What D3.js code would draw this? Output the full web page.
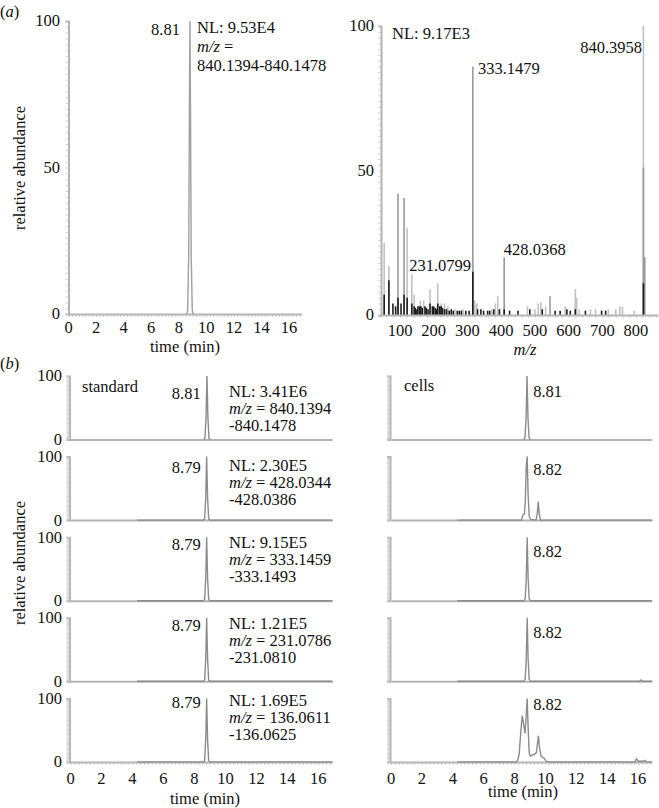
<!DOCTYPE html>
<html>
<head>
<meta charset="utf-8">
<script src="https://cdnjs.cloudflare.com/ajax/libs/d3/7.8.5/d3.min.js"></script>
<style>
body { margin: 0; background: #fff; }
svg text { font-family: "Liberation Serif", "Times New Roman", serif; font-size: 16.5px; fill: #111; }
</style>
</head>
<body>
<div id="fig"></div>
<script>
// valores
const timeTicks = [0, 2, 4, 6, 8, 10, 12, 14, 16];
const mzTicks = [100, 200, 300, 400, 500, 600, 700, 800];

// (a) cromatograma
const topTrace = [[8.56, 0], [8.64, 1], [8.72, 20], [8.77, 70], [8.81, 100], [8.85, 70], [8.90, 20], [8.98, 1], [9.06, 0]];

// (a) espectro: m/z, abundancia, tono (0 claro, 1 medio, 2 oscuro)
const specMz = [53, 53, 67, 67, 79, 87, 94, 94, 103, 112, 112, 121, 121, 135, 135, 142, 142, 153, 160, 162, 170, 178,
  189, 189, 196, 205, 212, 212, 222, 222, 232, 232, 242, 252, 263, 270, 287, 295, 316, 316, 322, 328, 340, 360, 372, 383,
  390, 395, 409, 409, 425, 450, 478, 485, 500, 510, 518, 522, 532, 545, 560, 575, 590, 595, 605, 620, 624, 620, 632, 650,
  665, 680, 698, 710, 718, 740, 752, 760, 795, 822, 822, 822, 826,
  145, 150, 158, 166, 174, 183, 200, 208, 218, 226, 238, 246, 258, 276, 282, 305, 330, 348, 366, 378];
const specInt = [25, 7, 17, 12, 4, 3, 42, 6, 4, 40.5, 7, 30, 6, 14, 4, 7, 3, 3, 5, 3, 5, 2.5,
  9, 4, 3, 2.5, 11, 4, 4, 3, 4, 2, 3, 2, 2, 1.5, 2, 1.5, 86, 15, 5, 4, 2, 1.5, 2, 4,
  6.5, 2, 20, 2, 1.5, 1.5, 3, 2, 2, 4, 4.5, 2, 3, 6.5, 1.5, 1.5, 3, 2, 1.5, 9, 6, 2, 2, 1.5,
  2, 2, 1.5, 1.5, 2, 2, 3, 3, 1.5, 100, 51, 11, 20,
  2.5, 2, 3, 2.5, 3, 2, 3, 2, 3, 2.5, 2, 1.5, 1.5, 1.5, 1.5, 1.5, 2, 1.5, 1.5, 2];
const specShade = [0, 2, 0, 2, 2, 2, 1, 2, 2, 1, 2, 0, 2, 0, 2, 0, 2, 2, 0, 2, 0, 2,
  0, 2, 2, 2, 0, 2, 0, 2, 0, 2, 0, 2, 0, 2, 0, 2, 1, 2, 0, 0, 2, 2, 0, 0,
  0, 2, 1, 2, 2, 2, 0, 2, 0, 0, 0, 2, 0, 1, 2, 2, 0, 2, 2, 0, 0, 2, 0, 2,
  0, 0, 2, 2, 0, 0, 0, 0, 0, 0, 1, 2, 1,
  2, 2, 2, 2, 2, 2, 2, 2, 2, 2, 2, 2, 2, 2, 2, 2, 2, 2, 2, 2];
const specLabels = ["333.1479", "840.3958", "428.0368", "231.0799"];
const specLabelMz = [331, 818, 408, 127];
const specLabelAb = [83.5, 90.5, 20.8, 15.2];

// (b) paneles
const panelNL = ["3.41E6", "2.30E5", "9.15E5", "1.21E5", "1.69E5"];
const panelMz = [["840.1394", "-840.1478"], ["428.0344", "-428.0386"], ["333.1459", "-333.1493"],
  ["231.0786", "-231.0810"], ["136.0611", "-136.0625"]];
const stdRT = ["8.81", "8.79", "8.79", "8.79", "8.79"];
const cellRT = ["8.81", "8.82", "8.82", "8.82", "8.82"];

const stdTraces = [
  [[8.60, 0], [8.68, 2], [8.75, 35], [8.81, 100], [8.87, 35], [8.94, 2], [9.02, 0]],
  [[4.3, 0], [8.58, 0], [8.66, 2], [8.73, 35], [8.79, 100], [8.85, 35], [8.92, 2], [9.0, 0], [16.9, 0]],
  [[4.3, 0], [8.58, 0], [8.66, 2], [8.73, 35], [8.79, 100], [8.85, 35], [8.92, 2], [9.0, 0], [16.9, 0]],
  [[4.3, 0], [8.58, 0], [8.66, 2], [8.73, 35], [8.79, 100], [8.85, 35], [8.92, 2], [9.0, 0], [16.9, 0]],
  [[4.3, 0], [8.58, 0], [8.66, 2], [8.73, 35], [8.79, 100], [8.85, 35], [8.92, 2], [9.0, 0], [16.9, 0]]
];
const cellTraces = [
  [[8.60, 0], [8.68, 3], [8.75, 35], [8.81, 100], [8.87, 35], [8.94, 3], [9.02, 0]],
  [[4.3, 0], [8.45, 0], [8.52, 6], [8.58, 9], [8.64, 10], [8.70, 30], [8.76, 85], [8.82, 100], [8.88, 40], [8.95, 6],
    [9.05, 1], [9.40, 0], [9.47, 10], [9.54, 29], [9.60, 10], [9.68, 0], [16.9, 0]],
  [[4.3, 0], [8.61, 0], [8.69, 3], [8.76, 35], [8.82, 100], [8.88, 35], [8.95, 3], [9.03, 0], [16.9, 0]],
  [[4.3, 0], [8.61, 0], [8.69, 3], [8.76, 35], [8.82, 100], [8.88, 35], [8.95, 3], [9.03, 0], [16.1, 0], [16.2, 2],
    [16.3, 0], [16.9, 0]],
  [[4.3, 0], [8.1, 0], [8.2, 2], [8.3, 12], [8.4, 45], [8.5, 73], [8.6, 58], [8.68, 45], [8.75, 70], [8.82, 100],
    [8.88, 55], [8.95, 15], [9.02, 9], [9.15, 11], [9.3, 12], [9.42, 15], [9.5, 32], [9.55, 41], [9.62, 22], [9.72, 9],
    [9.85, 7], [9.95, 5], [10.05, 1], [10.2, 0], [15.8, 0], [15.9, 5], [16.0, 1], [16.35, 1], [16.45, 2.5], [16.55, 0],
    [16.9, 0]]
];

// tamaños
const W = 659, H = 808;
const AXIS = "#b4b4b4", TRACE = "#8c8c8c";
const SHADES = ["#c2c2c2", "#999999", "#1c1c1c"];

const svg = d3.select("#fig").append("svg").attr("width", W).attr("height", H)
  .attr("font-family", "'Liberation Serif', 'Times New Roman', serif");

function yAxis(g, y, x0) {
  const a = g.append("g").attr("transform", `translate(${x0},0)`)
    .call(d3.axisLeft(y).tickValues(d3.range(0, 101, 2)).tickSize(3).tickFormat(""));
  a.select(".domain").attr("stroke", AXIS).attr("stroke-width", 2);
  a.selectAll(".tick line").attr("stroke", "#c8c8c8").attr("stroke-width", 0.8);
}

function xAxis(g, x, y0, values, ticks) {
  const a = g.append("g").attr("transform", `translate(0,${y0})`)
    .call(d3.axisBottom(x).tickValues(ticks ? values : []).tickSize(3).tickFormat("").tickSizeOuter(0));
  a.select(".domain").attr("stroke", AXIS).attr("stroke-width", 2);
  a.selectAll(".tick line").attr("stroke", "#bdbdbd").attr("stroke-width", 0.8);
}

function yLabels(g, y, xr, vals) {
  g.selectAll(null).data(vals).join("text")
    .attr("x", xr).attr("y", d => y(d)).attr("dy", "0.33em")
    .attr("text-anchor", "end").text(d => d);
}

function xLabels(g, x, yc, vals) {
  g.selectAll(null).data(vals).join("text")
    .attr("x", d => x(d)).attr("y", yc).attr("dy", "0.33em")
    .attr("text-anchor", "middle").text(d => d);
}

function mzText(g, x, y, rest) {
  const t = g.append("text").attr("x", x).attr("y", y);
  t.append("tspan").attr("font-style", "italic").text("m/z");
  t.append("tspan").text(rest);
}

function trace(g, x, y, pts) {
  g.append("path").datum(pts)
    .attr("d", d3.line().x(d => x(d[0])).y(d => y(d[1])))
    .attr("fill", "none").attr("stroke", TRACE).attr("stroke-width", 1.4);
}

// ---------- (a) izquierda
const g1 = svg.append("g");
const x1 = d3.scaleLinear().domain([0, 16.9]).range([68.5, 301.5]);
const y1 = d3.scaleLinear().domain([0, 100]).range([314, 21]);
xAxis(g1, x1, y1(0), d3.range(0, 16.9, 0.25), true);
yAxis(g1, y1, x1(0));
g1.append("path").datum(topTrace)
  .attr("d", d3.line().x(d => x1(d[0])).y(d => y1(d[1])))
  .attr("fill", "none").attr("stroke", "#a0a0a0").attr("stroke-width", 1.4);
yLabels(g1, y1, 60, [0, 50, 100]);
xLabels(g1, x1, 328, timeTicks);
g1.append("text").attr("x", x1(8.81) - 10).attr("y", 35).attr("text-anchor", "end").text("8.81");
g1.append("text").attr("x", 197).attr("y", 33).text("NL: 9.53E4");
mzText(g1, 197, 52, " =");
g1.append("text").attr("x", 197).attr("y", 71).text("840.1394-840.1478");
g1.append("text").attr("x", 185).attr("y", 352).attr("text-anchor", "middle").text("time (min)");
g1.append("text").attr("transform", "translate(25,168) rotate(-90)").attr("text-anchor", "middle").text("relative abundance");
const ta = g1.append("text").attr("x", 0).attr("y", 17);
ta.append("tspan").text("(");
ta.append("tspan").attr("font-style", "italic").text("a");
ta.append("tspan").text(")");

// ---------- (a) derecha: espectro
const g2 = svg.append("g");
const x2 = d3.scaleLinear().domain([40, 865]).range([379.8, 657.9]);
const y2 = d3.scaleLinear().domain([0, 100]).range([315, 26]);
const bars = specMz.map((m, i) => ({ mz: m, ab: specInt[i], s: specShade[i] }))
  .sort((a, b) => a.s - b.s);
g2.selectAll(null).data(bars).join("line")
  .attr("x1", d => x2(d.mz)).attr("x2", d => x2(d.mz))
  .attr("y1", y2(0)).attr("y2", d => y2(d.ab))
  .attr("stroke", d => SHADES[d.s]).attr("stroke-width", 1.6);
xAxis(g2, x2, y2(0), d3.range(40, 865, 20), true);
yAxis(g2, y2, 381);
yLabels(g2, y2, 374, [0, 50, 100]);
xLabels(g2, x2, 331, mzTicks);
g2.selectAll(null).data(specLabels).join("text")
  .attr("x", (d, i) => x2(specLabelMz[i])).attr("y", (d, i) => y2(specLabelAb[i]))
  .attr("text-anchor", (d, i) => i === 1 ? "end" : "start").text(d => d);
g2.append("text").attr("x", 392).attr("y", 39).text("NL: 9.17E3");
g2.append("text").attr("x", 525).attr("y", 355).attr("text-anchor", "middle")
  .attr("font-style", "italic").text("m/z");

// ---------- (b)
const zero0 = 439.5, step = 80.6, ph = 63.5;
const xL = d3.scaleLinear().domain([0, 16.9]).range([70.5, 70.5 + 16.9 * 15.49]);
const xR = d3.scaleLinear().domain([0, 16.9]).range([391, 391 + 16.9 * 15.44]);
const stdDy = [-41, -47, -51, -50, -54];
const cellDy = [-43, -45, -44, -43, -52];

const gb = svg.append("g");
panelNL.forEach((nl, i) => {
  const z = zero0 + step * i;
  const y = d3.scaleLinear().domain([0, 100]).range([z, z - ph]);
  const last = i === panelNL.length - 1;

  // estandar
  const gl = gb.append("g");
  xAxis(gl, xL, z, d3.range(0, 16.9, 0.25), last);
  yAxis(gl, y, xL(0) - 1);
  trace(gl, xL, y, stdTraces[i]);
  yLabels(gl, y, 62, [0, 100]);
  const by = z + stdDy[i];
  gl.append("text").attr("x", xL(8.79) - 6).attr("y", by).attr("text-anchor", "end").text(stdRT[i]);
  gl.append("text").attr("x", 229).attr("y", by - 2).text("NL: " + nl);
  mzText(gl, 229, by + 15, " = " + panelMz[i][0]);
  gl.append("text").attr("x", 229).attr("y", by + 32).text(panelMz[i][1]);

  // celulas
  const gr = gb.append("g");
  xAxis(gr, xR, z, d3.range(0, 16.9, 0.25), last);
  yAxis(gr, y, xR(0) - 1);
  trace(gr, xR, y, cellTraces[i]);
  gr.append("text").attr("x", xR(8.82) + 6).attr("y", z + cellDy[i]).text(cellRT[i]);

  if (i === 0) {
    gl.append("text").attr("x", 82).attr("y", 392).text("standard");
    gr.append("text").attr("x", 404).attr("y", 391).text("cells");
  }
});
xLabels(gb, xL, 779, timeTicks);
xLabels(gb, xR, 779, timeTicks);
gb.append("text").attr("x", 205).attr("y", 804).attr("text-anchor", "middle").text("time (min)");
gb.append("text").attr("x", 523).attr("y", 797).attr("text-anchor", "middle").text("time (min)");
gb.append("text").attr("transform", "translate(25,563) rotate(-90)").attr("text-anchor", "middle").text("relative abundance");
const tb = gb.append("text").attr("x", 0).attr("y", 369);
tb.append("tspan").text("(");
tb.append("tspan").attr("font-style", "italic").text("b");
tb.append("tspan").text(")");
</script>
</body>
</html>
